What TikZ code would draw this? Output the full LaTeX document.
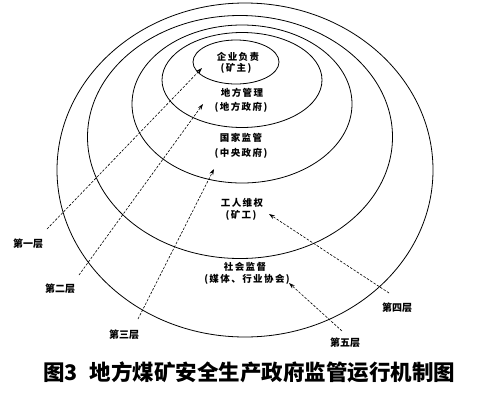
\documentclass[tikz,border=0pt]{standalone}
\usepackage{fontspec}
\newfontfamily\cjk{Noto Sans CJK SC}[LetterSpace=15]
\newfontfamily\cjkcap{Noto Sans CJK SC}
\usetikzlibrary{arrows.meta,shapes.geometric}
\tikzset{
  ring/.style={draw, ellipse, inner sep=0pt, line width=0.8pt},
  lab/.style={font=\cjk\bfseries\fontsize{9.5}{11}\selectfont, inner sep=0pt},
  layer/.style={font=\cjkcap\bfseries\fontsize{10}{12}\selectfont, inner sep=0pt},
  arrowline/.style={line width=0.6pt, dash pattern=on 2.5pt off 1.5pt, -{Stealth[length=6pt,width=4pt]}},
  captionstyle/.style={font=\cjkcap\bfseries\fontsize{21.5}{24}\selectfont, inner sep=0pt, anchor=west}
}
\begin{document}
\begin{tikzpicture}[x=1pt,y=-1pt]
\fill[white] (0,0) rectangle (478,402);
\useasboundingbox (0,0) rectangle (478,402);
% rings
\node[ring, minimum width=376pt, minimum height=334pt] (e5) at (245,170) {};
\node[ring, minimum width=305pt, minimum height=243pt] (e4) at (240,137) {};
\node[ring, minimum width=220pt, minimum height=158pt] (e3) at (242,104) {};
\node[ring, minimum width=160pt, minimum height=95pt] (e2) at (242,80) {};
\node[ring, minimum width=86pt, minimum height=44pt] (e1) at (236,62) {};
% labels in rings
\node[lab] (a1) at (238,57) {企业负责};
\node[lab] (a2) at (236,68) {(矿主)};
\node[lab] (b1) at (242,93) {地方管理};
\node[lab] (b2) at (241,107) {(地方政府)};
\node[lab] (c1) at (241,138) {国家监管};
\node[lab] (c2) at (241,153) {(中央政府)};
\node[lab] (d1) at (242,203) {工人维权};
\node[lab] (d2) at (241,215) {(矿工)};
\node[lab] (f1) at (245,267) {社会监督};
\node[lab] (f2) at (247,279) {(媒体、行业协会)};
% layer labels
\node[layer] (l1) at (28,244) {第一层};
\node[layer] (l2) at (60,289) {第二层};
\node[layer] (l3) at (124,335) {第三层};
\node[layer] (l4) at (397,308) {第四层};
\node[layer] (l5) at (345,343) {第五层};
% arrow end points
\coordinate (s1) at (47,229);  \coordinate (t1) at (202,68);
\coordinate (s2) at (79,275);  \coordinate (t2) at (203,104);
\coordinate (s3) at (138,319); \coordinate (t3) at (214,169);
\coordinate (s4) at (389,293); \coordinate (t4) at (269,214);
\coordinate (s5) at (342,331); \coordinate (t5) at (289,283);
\draw[arrowline] (s1) -- (t1);
\draw[arrowline] (s2) -- (t2);
\draw[arrowline] (s3) -- (t3);
\draw[arrowline] (s4) -- (t4);
\draw[arrowline] (s5) -- (t5);
% caption
\node[captionstyle] (cap) at (43,372) {图3\hspace{12pt}地方煤矿安全生产政府监管运行机制图};
\end{tikzpicture}
\end{document}
